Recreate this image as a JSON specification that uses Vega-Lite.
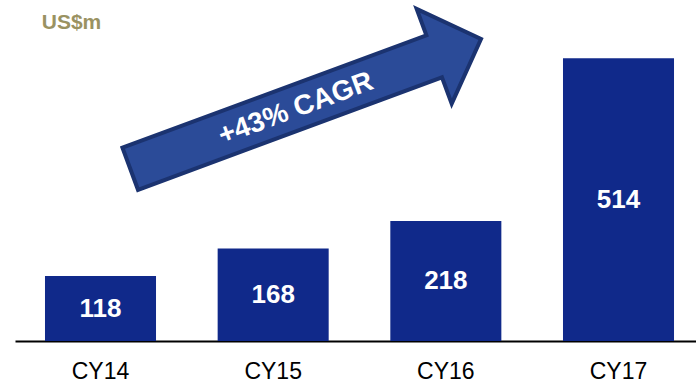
{
  "$schema": "https://vega.github.io/schema/vega-lite/v6.json",
  "width": 681,
  "height": 341,
  "autosize": {"type": "none"},
  "padding": {"left": 15, "top": 0, "right": 0, "bottom": 42},
  "config": {"view": {"stroke": null}, "font": "Liberation Sans"},
  "datasets": {
    "bars": [
      {"year": "CY14", "value": 118},
      {"year": "CY15", "value": 168},
      {"year": "CY16", "value": 218},
      {"year": "CY17", "value": 514}
    ],
    "arrow": [{"pos": 1.707, "amount": 431.1}],
    "arrowText": [{"pos": 1.65, "amount": 421.8, "label": "+43% CAGR"}],
    "unit": [{"pos": 0.157, "amount": 568, "label": "US$m"}]
  },
  "layer": [
    {
      "data": {"name": "bars"},
      "mark": {"type": "bar", "color": "#10298A"},
      "encoding": {
        "x": {
          "field": "year", "type": "nominal", "sort": null,
          "scale": {"type": "band", "paddingInner": 0.357, "paddingOuter": 0.1505, "align": 0.577},
          "axis": {
            "title": null, "labelAngle": 0, "ticks": false, "tickSize": 0,
            "domainColor": "#000000", "domainWidth": 2,
            "labelFont": "Liberation Sans", "labelFontSize": 23, "labelColor": "#000000",
            "labelBaseline": "alphabetic", "labelPadding": 37
          }
        },
        "y": {"field": "value", "type": "quantitative", "scale": {"domain": [0, 620], "nice": false}, "axis": null}
      }
    },
    {
      "data": {"name": "bars"},
      "transform": [{"calculate": "datum.value / 2", "as": "mid"}],
      "mark": {"type": "text", "color": "#FFFFFF", "fontSize": 26, "fontWeight": "bold", "baseline": "middle", "align": "center"},
      "encoding": {
        "x": {
          "field": "year", "type": "nominal", "sort": null,
          "scale": {"type": "band", "paddingInner": 0.357, "paddingOuter": 0.1505, "align": 0.577},
          "axis": null
        },
        "y": {"field": "mid", "type": "quantitative", "scale": {"domain": [0, 620], "nice": false}, "axis": null},
        "text": {"field": "value", "type": "quantitative"}
      }
    },
    {
      "data": {"name": "arrow"},
      "mark": {
        "type": "point",
        "shape": "M-1,-0.12L0.733,-0.12L0.733,-0.27L1,0L0.733,0.27L0.733,0.12L-1,0.12Z",
        "size": 139876, "angle": 339.7, "filled": true,
        "fill": "#2B4B98", "stroke": "#1B3370", "strokeWidth": 4, "opacity": 1, "fillOpacity": 1
      },
      "encoding": {
        "x": {"field": "pos", "type": "quantitative", "scale": {"domain": [0, 4], "nice": false, "zero": false}, "axis": null},
        "y": {"field": "amount", "type": "quantitative", "scale": {"domain": [0, 620], "nice": false}, "axis": null}
      }
    },
    {
      "data": {"name": "arrowText"},
      "mark": {"type": "text", "color": "#FFFFFF", "fontSize": 28, "fontWeight": "bold", "angle": 339.7, "align": "center", "baseline": "middle"},
      "encoding": {
        "x": {"field": "pos", "type": "quantitative", "scale": {"domain": [0, 4], "nice": false, "zero": false}, "axis": null},
        "y": {"field": "amount", "type": "quantitative", "scale": {"domain": [0, 620], "nice": false}, "axis": null},
        "text": {"field": "label"}
      }
    },
    {
      "data": {"name": "unit"},
      "mark": {"type": "text", "color": "#9A9262", "fontSize": 21, "fontWeight": "bold", "align": "left", "baseline": "alphabetic"},
      "encoding": {
        "x": {"field": "pos", "type": "quantitative", "scale": {"domain": [0, 4], "nice": false, "zero": false}, "axis": null},
        "y": {"field": "amount", "type": "quantitative", "scale": {"domain": [0, 620], "nice": false}, "axis": null},
        "text": {"field": "label"}
      }
    }
  ],
  "resolve": {"scale": {"x": "independent"}}
}
